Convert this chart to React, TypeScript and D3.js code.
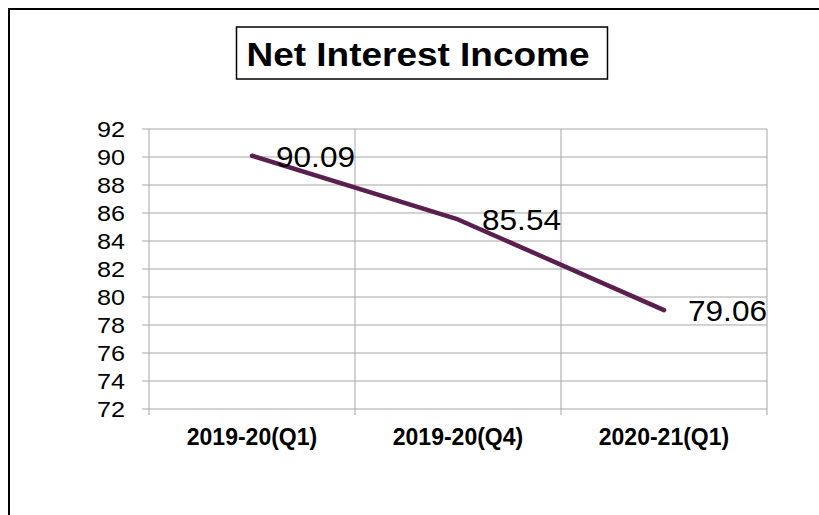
import React from "react";
import * as d3 from "d3";

const categories = ["2019-20(Q1)", "2019-20(Q4)", "2020-21(Q1)"];
const values = [90.09, 85.54, 79.06];
const yTicks = [72, 74, 76, 78, 80, 82, 84, 86, 88, 90, 92];
const title = "Net Interest Income";

const W = 819;
const H = 515;
const plot = { left: 149, right: 767, top: 129, bottom: 409 };
const FONT = "'Liberation Sans', Arial, sans-serif";

export default function App() {
  const x = d3
    .scaleBand<string>()
    .domain(categories)
    .range([plot.left, plot.right])
    .paddingInner(0)
    .paddingOuter(0);
  const y = d3.scaleLinear().domain([72, 92]).range([plot.bottom, plot.top]);
  const cx = (c: string) => (x(c) as number) + x.bandwidth() / 2;
  const line = d3
    .line<number>()
    .x((_, i) => cx(categories[i]))
    .y((d) => y(d));
  const boundaries = categories.map((c) => x(c) as number).concat([plot.right]);
  const grid = "#a6a6a6";

  return (
    <div style={{ position: "absolute", left: 0, top: 0 }}>
      <svg width={W} height={H} style={{ display: "block", background: "#fff" }}>
        <rect x={9} y={9} width={840} height={540} fill="#fff" stroke="#000" strokeWidth={2} />
        <rect x={236.5} y={27} width={371} height={52} fill="#fff" stroke="#000" strokeWidth={1.5} />
        <text
          x={418}
          y={66}
          textAnchor="middle"
          fontFamily={FONT}
          fontWeight="bold"
          fontSize={34}
          textLength={343}
          lengthAdjust="spacingAndGlyphs"
        >
          {title}
        </text>
        {yTicks.map((t) => (
          <g key={t}>
            <line x1={142} x2={plot.right} y1={y(t)} y2={y(t)} stroke={grid} strokeWidth={1} />
            <text
              x={97}
              y={y(t) + 8}
              fontFamily={FONT}
              fontSize={21.5}
              textLength={28}
              lengthAdjust="spacingAndGlyphs"
              fill="#000"
            >
              {t}
            </text>
          </g>
        ))}
        {boundaries.map((b, i) => (
          <line key={i} x1={b} x2={b} y1={plot.top} y2={plot.bottom + 6} stroke={grid} strokeWidth={1} />
        ))}
        <path
          d={line(values) || ""}
          fill="none"
          stroke="#5b1f4f"
          strokeWidth={4.5}
          strokeLinecap="round"
          strokeLinejoin="round"
        />
        {values.map((v, i) => (
          <text
            key={i}
            x={cx(categories[i]) + 24}
            y={y(v) + 11}
            fontFamily={FONT}
            fontSize={30}
            textLength={79}
            lengthAdjust="spacingAndGlyphs"
            fill="#000"
          >
            {v.toFixed(2)}
          </text>
        ))}
        {categories.map((c) => (
          <text
            key={c}
            x={cx(c)}
            y={445}
            textAnchor="middle"
            fontFamily={FONT}
            fontWeight="bold"
            fontSize={23}
            fill="#000"
          >
            {c}
          </text>
        ))}
      </svg>
    </div>
  );
}
